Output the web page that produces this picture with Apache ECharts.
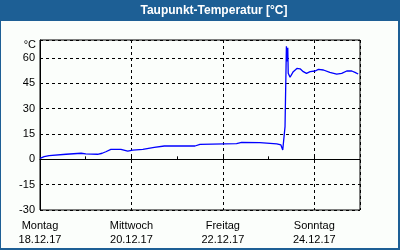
<!DOCTYPE html>
<html>
<head>
<meta charset="utf-8">
<script src="https://cdn.jsdelivr.net/npm/echarts@6/dist/echarts.min.js"></script>
<style>
html,body{margin:0;padding:0;background:#1d5f95;}
#chart{width:400px;height:250px;}
</style>
</head>
<body>
<div id="chart"></div>
<script>
// time in days since Monday 18.12.17 00:00
const days = [0, 0.02, 0.09, 0.2, 0.57, 0.9, 1.0, 1.26, 1.36, 1.44, 1.55, 1.77, 1.92, 2.03, 2.25, 2.5, 2.72, 3.06, 3.39, 3.5, 4.3, 4.41, 4.81, 5.18, 5.27, 5.31, 5.34, 5.36, 5.39, 5.40, 5.41, 5.42, 5.43, 5.47, 5.54, 5.62, 5.69, 5.76, 5.83, 5.91, 6.02, 6.09, 6.2, 6.34, 6.49, 6.6, 6.71, 6.82, 6.89, 6.96];
const dewpoint = [0.6, 1.3, 1.6, 2.2, 3.0, 3.6, 3.2, 3.0, 3.6, 4.5, 5.9, 5.9, 4.9, 5.5, 5.9, 7.1, 7.9, 7.9, 7.9, 8.9, 9.3, 10.1, 9.9, 9.1, 8.5, 5.5, 4.5, 19.4, 67, 58, 60.8, 66, 51, 48.6, 51.9, 53.8, 53.6, 51.9, 50.9, 51.9, 52.3, 53.3, 52.9, 51.5, 50.5, 50.9, 52.3, 52.3, 51.5, 50.5];
const dayNames = ['Montag', '', 'Mittwoch', '', 'Freitag', '', 'Sonntag', ''];
const dateLabels = ['18.12.17', '', '20.12.17', '', '22.12.17', '', '24.12.17', ''];
const yTicks = [-30, -15, 0, 15, 30, 45, 60];
const titleText = 'Taupunkt-Temperatur [°C]';
const unitText = '°C';

const chart = echarts.init(document.getElementById('chart'), null, {renderer: 'canvas'});
const font = 'Liberation Sans, Arial, sans-serif';
chart.setOption({
  animation: false,
  backgroundColor: '#1d5f95',
  graphic: [
    {type: 'rect', z: -10, shape: {x: 1, y: 21, width: 397, height: 227}, style: {fill: '#fbfefb'}},
    {type: 'text', z: 10, x: 214, y: 11, style: {text: titleText, fill: '#ffffff', font: 'bold 12px ' + font, textAlign: 'center', textVerticalAlign: 'middle'}},
    {type: 'text', z: 10, x: 36, y: 45, style: {text: unitText, fill: '#000', font: '11px ' + font, textAlign: 'right', textVerticalAlign: 'middle'}}
  ],
  grid: {left: 40, right: 40, top: 40, bottom: 40, show: true, borderColor: '#000', borderWidth: 1, backgroundColor: 'transparent'},
  xAxis: [{
    type: 'value', min: 0, max: 7, interval: 1,
    axisLine: {show: true, lineStyle: {color: '#000', width: 1}},
    axisTick: {show: true, inside: true, length: 3, lineStyle: {color: '#000'}},
    axisLabel: {
      color: '#000', fontFamily: font, fontSize: 11, lineHeight: 14, margin: 9,
      showMaxLabel: false,
      formatter: v => { const i = Math.round(v); return dayNames[i] ? dayNames[i] + '\n' + dateLabels[i] : ''; }
    },
    splitLine: {show: false}
  }, {
    type: 'value', min: 0, max: 7, interval: 2, position: 'top',
    axisLine: {show: false}, axisTick: {show: false}, axisLabel: {show: false},
    splitLine: {show: true, lineStyle: {color: '#000', type: [3, 3], width: 1}}
  }],
  yAxis: {
    type: 'value', min: -30, max: 70.66, interval: 15,
    axisLine: {show: true, lineStyle: {color: '#000'}},
    axisTick: {show: false},
    axisLabel: {color: '#000', fontFamily: font, fontSize: 11, margin: 5,
      formatter: v => yTicks.indexOf(v) >= 0 ? String(v) : ''},
    splitLine: {show: true, lineStyle: {color: '#000', type: [3, 3], width: 1}}
  },
  series: [{
    type: 'line',
    data: days.map((d, i) => [d, dewpoint[i]]),
    showSymbol: false,
    lineStyle: {color: '#0000ff', width: 1.3},
    clip: true
  }]
});
</script>
</body>
</html>
